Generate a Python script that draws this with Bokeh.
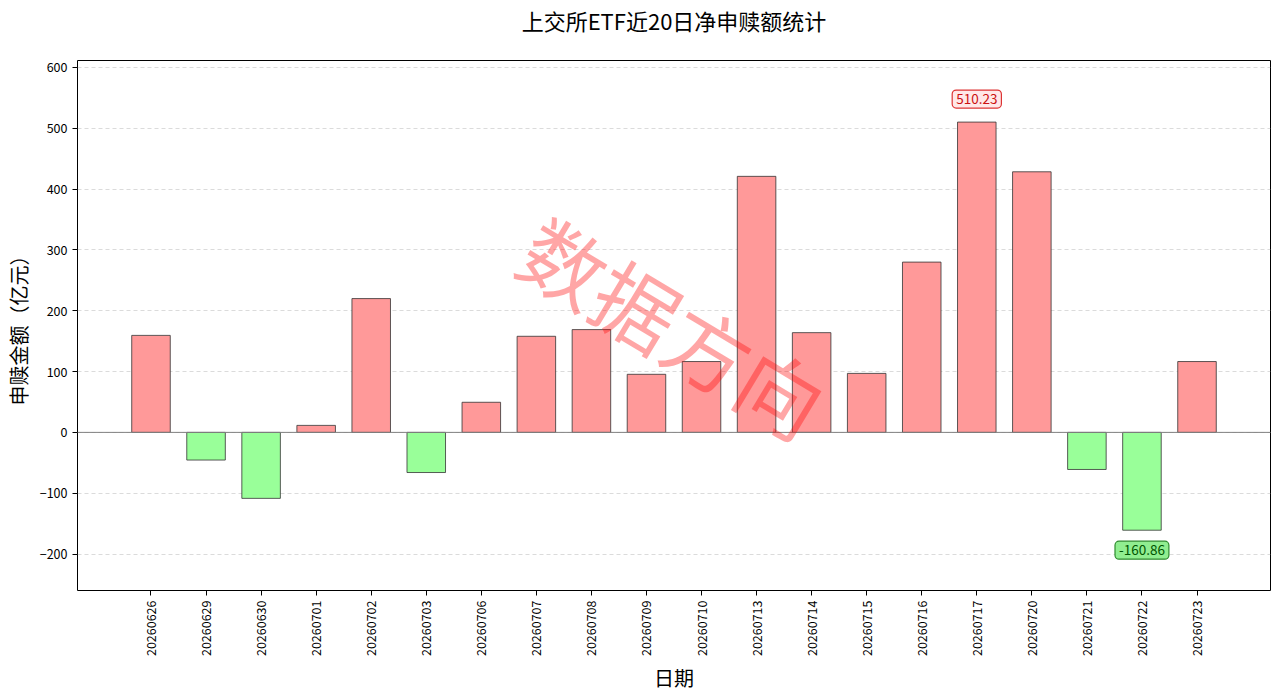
from bokeh.plotting import figure
from bokeh.models import FixedTicker, Range1d, Label, Span, ColumnDataSource, Title
from bokeh.embed import file_html
from bokeh.resources import INLINE

dates = ["20260626", "20260629", "20260630", "20260701", "20260702", "20260703",
         "20260706", "20260707", "20260708", "20260709", "20260710", "20260713",
         "20260714", "20260715", "20260716", "20260717", "20260720", "20260721",
         "20260722", "20260723"]
values = [159.5, -45.5, -108.5, 11.5, 220.0, -66.0, 49.5, 158.0, 169.0, 95.5,
          116.5, 421.0, 164.0, 97.0, 280.0, 510.23, 428.5, -61.0, -160.86, 116.5]
y_ticks = [-200, -100, 0, 100, 200, 300, 400, 500, 600]
title_text = "上交所ETF近20日净申赎额统计"
watermark_text = "数据方向"

FONT = "Noto Sans CJK SC"
n = len(values)
idx = list(range(n))
colors = ["#ff9999" if v >= 0 else "#99ff99" for v in values]
src = ColumnDataSource(dict(x=idx, top=values, color=colors))

ymin, ymax = -260.0, 611.5
xmin, xmax = -1.335, n - 1 + 1.335

p = figure(width=1280, height=696, output_backend="svg", toolbar_location=None,
           x_range=Range1d(xmin, xmax), y_range=Range1d(ymin, ymax),
           min_border_left=76, min_border_right=10, min_border_top=60,
           min_border_bottom=106)

# spacer between frame and title (panels stack outward from the frame)
p.add_layout(Title(text=" ", text_font_size="1px", standoff=21), "above")

p.title.text = title_text
p.title.align = "center"
p.title.text_font = FONT
p.title.text_font_size = "22px"
p.title.text_font_style = "normal"
p.title.text_color = "black"
p.title.offset = 0
p.title.standoff = 2

p.outline_line_color = "black"
p.outline_line_width = 1
p.background_fill_color = "white"
p.border_fill_color = "white"

p.xgrid.grid_line_color = None
p.ygrid.grid_line_color = "#cccccc"
p.ygrid.grid_line_alpha = 0.7
p.ygrid.grid_line_dash = "4 3"
p.ygrid.ticker = FixedTicker(ticks=y_ticks)

p.vbar(x="x", top="top", bottom=0, width=0.7, fill_color="color", fill_alpha=1.0,
       line_color="#333333", line_width=0.8, source=src)

p.add_layout(Span(location=0, dimension="width", line_color="gray", line_width=1))

for ax in (p.xaxis[0], p.yaxis[0]):
    ax.axis_line_color = None
    ax.major_tick_line_color = "black"
    ax.major_tick_out = 5
    ax.major_tick_in = 0
    ax.minor_tick_line_color = None
    ax.major_label_text_font = FONT
    ax.major_label_text_font_size = "12.5px"
    ax.major_label_text_color = "black"
    ax.axis_label_text_font = FONT
    ax.axis_label_text_font_size = "20px"
    ax.axis_label_text_font_style = "normal"
    ax.axis_label_text_color = "black"

p.xaxis.ticker = FixedTicker(ticks=idx)
p.xaxis.major_label_overrides = {i: d for i, d in enumerate(dates)}
p.xaxis.major_label_orientation = 1.5708
p.xaxis.axis_label = "日期"
p.xaxis.axis_label_standoff = 4
p.yaxis.ticker = FixedTicker(ticks=y_ticks)
p.yaxis.axis_label = "申赎金额（亿元）"
p.yaxis.axis_label_standoff = 4

imax = values.index(max(values))
imin = values.index(min(values))
p.add_layout(Label(x=imax, y=values[imax], text=f"{values[imax]:.2f}", text_align="center",
                   text_baseline="bottom", y_offset=14, text_font=FONT, text_font_size="13.5px",
                   text_color="#cc1111", background_fill_color="#ffe8e8",
                   border_line_color="#dd3333", border_line_width=1.2,
                   padding=4, border_radius=4))
p.add_layout(Label(x=imin, y=values[imin], text=f"{values[imin]:.2f}", text_align="center",
                   text_baseline="top", y_offset=-11, text_font=FONT, text_font_size="13.5px",
                   text_color="#005500", background_fill_color="#90ee90",
                   border_line_color="#2e8b2e", border_line_width=1.2,
                   padding=4, border_radius=4))

p.add_layout(Label(x=(xmin + xmax) / 2, y=(ymin + ymax) / 2, text=watermark_text,
                   text_align="center", text_baseline="middle", angle=-31, angle_units="deg",
                   text_font=FONT, text_font_size="84px", text_color="red", text_alpha=0.35))

open("out.html", "w").write(file_html(p, INLINE))
